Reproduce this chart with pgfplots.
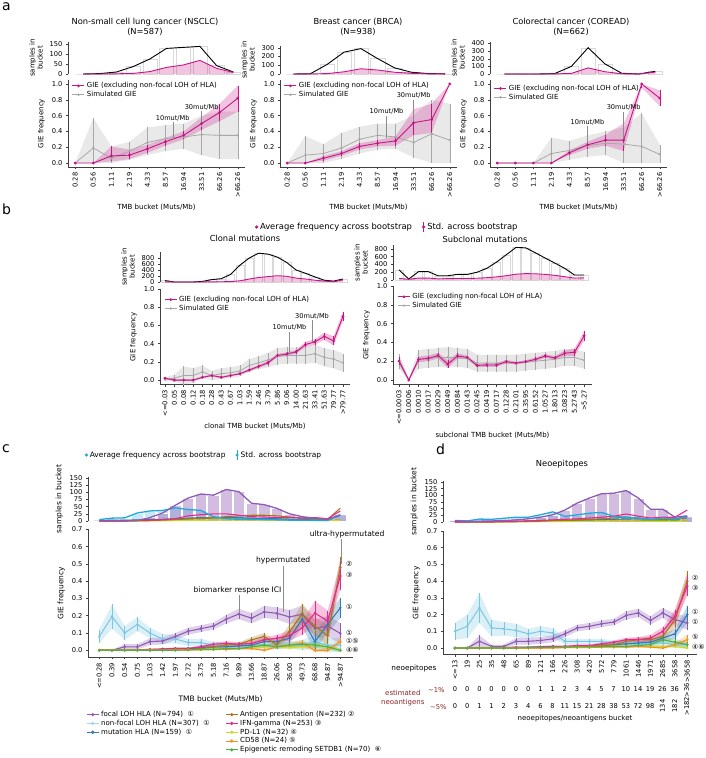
\documentclass[border=0pt]{standalone}
\usepackage{fontspec}
\setmainfont{DejaVu Sans}
\usepackage{pgfplots}
\usepackage{pgfplotstable}
\pgfplotsset{compat=1.18}
\usepgfplotslibrary{fillbetween}

\definecolor{mag}{HTML}{C71585}
\definecolor{simg}{HTML}{A8A8A8}
\definecolor{cpur}{HTML}{8E5BB5}
\definecolor{clb}{HTML}{7CC6E2}
\definecolor{ccy}{HTML}{1FA9DA}
\definecolor{cbl}{HTML}{3478B4}
\definecolor{cbr}{HTML}{A6761D}
\definecolor{cmg}{HTML}{E7298A}
\definecolor{cye}{HTML}{CFD92B}
\definecolor{cor}{HTML}{F5921E}
\definecolor{cgr}{HTML}{4DAF4A}
\definecolor{dred}{HTML}{8B2323}

\newcommand\fTick{\fontsize{6.7}{7.5}\selectfont}
\newcommand\fLab{\fontsize{7}{8}\selectfont}
\newcommand\fLabC{\fontsize{7.5}{8.5}\selectfont}
\newcommand\fTitle{\fontsize{8.3}{9.5}\selectfont}
\newcommand\fLeg{\fontsize{7}{8}\selectfont}
\newcommand\fLegB{\fontsize{8.4}{9.5}\selectfont}
\newcommand\fLegC{\fontsize{7.5}{8.5}\selectfont}
\newcommand\fAnn{\fontsize{6.6}{7.5}\selectfont}
\newcommand\fAnnC{\fontsize{7.6}{8.5}\selectfont}
\newcommand\fSm{\fontsize{7}{8}\selectfont}

\pgfplotsset{
 base/.style={scale only axis, clip=false,
   axis line style={line width=0.5pt, black!75},
   tick style={line width=0.5pt, black!75}, tick align=outside, major tick length=2pt,
   tick label style={font=\fTick}, label style={font=\fLab},
   /pgf/number format/assume math mode=true},
 hist/.style={base, axis x line=none, axis y line*=left, xtick=\empty,
   ylabel={samples in\\bucket}, ylabel style={align=center}},
 gie/.style={base, axis x line*=bottom, axis y line*=left, ylabel={GIE frequency},
   x tick label style={rotate=90, anchor=east},
   yticklabel style={/pgf/number format/.cd, fixed, fixed zerofill, precision=1}},
 leg/.style={legend style={at={(0.02,1.0)}, anchor=north west, draw=none, fill=none,
   font=\fLeg, inner sep=0.3pt, row sep=-2pt, cells={anchor=west}},
   legend image code/.code={\draw[mark repeat=2,mark phase=2,##1] plot coordinates {(0pt,0pt) (6pt,0pt) (12pt,0pt)};},
   reverse legend},
 hid/.style={hide axis, scale only axis, width=5pt, height=5pt, xmin=0, xmax=1, ymin=0, ymax=1},
}

% band with lo/hi columns
\newcommand{\bandLH}[4]{%
\addplot[name path=U#3, draw=none, forget plot] table[x=x,y=hi]{#1};
\addplot[name path=L#3, draw=none, forget plot] table[x=x,y=lo]{#1};
\addplot[fill=#2, fill opacity=0.25, draw=none, forget plot] fill between[of=U#3 and L#3];
\addplot[color=#2, mark=*, #4, error bars/.cd, y dir=both, y explicit, error mark=none,
  error bar style={line width=0.5pt}] table[x=x,y=m,
  y error plus expr=\thisrow{hi}-\thisrow{m}, y error minus expr=\thisrow{m}-\thisrow{lo}]{#1};
}
% band with symmetric error column
\newcommand{\bandE}[6]{%
\addplot[name path=U#5, draw=none, forget plot] table[x=x,y expr=\thisrow{#2}+\thisrow{#3}]{#1};
\addplot[name path=L#5, draw=none, forget plot] table[x=x,y expr=\thisrow{#2}-\thisrow{#3}]{#1};
\addplot[fill=#4, fill opacity=0.28, draw=none, forget plot] fill between[of=U#5 and L#5];
\addplot[color=#4, mark=*, #6, error bars/.cd, y dir=both, y explicit, error mark=none,
  error bar style={line width=0.5pt}] table[x=x,y=#2,y error=#3]{#1};
}

% ---------------- panel a data
\pgfplotstableread{
x k p
0 0 0
1 2 0
2 10 1
3 37 3
4 75 12
5 128 33
6 133 45
7 138 68
8 42 28
9 10 8
}\aNh
\pgfplotstableread{
x m lo hi
0 0.00 0.00 0.00
1 0.00 0.00 0.00
2 0.09 0.02 0.21
3 0.10 0.05 0.17
4 0.18 0.13 0.23
5 0.27 0.22 0.32
6 0.35 0.30 0.40
7 0.50 0.42 0.58
8 0.64 0.53 0.75
9 0.82 0.65 0.98
}\aNg
\pgfplotstableread{
x m lo hi
0 0.00 0.00 0.00
1 0.19 0.00 0.57
2 0.06 0.00 0.21
3 0.15 0.04 0.27
4 0.26 0.10 0.45
5 0.31 0.15 0.48
6 0.33 0.18 0.50
7 0.36 0.10 0.60
8 0.35 0.05 0.65
9 0.35 0.05 0.65
}\aNs
\pgfplotstableread{
x k p
0 0 0
1 3 0
2 110 5
3 250 25
4 290 60
5 175 45
6 70 20
7 20 8
8 5 2
9 2 1
}\aBh
\pgfplotstableread{
x m lo hi
0 0.00 0.00 0.00
1 0.00 0.00 0.00
2 0.06 0.03 0.09
3 0.12 0.09 0.15
4 0.21 0.17 0.25
5 0.25 0.21 0.29
6 0.28 0.22 0.34
7 0.51 0.35 0.68
8 0.55 0.38 0.75
9 1.00 1.00 1.00
}\aBg
\pgfplotstableread{
x m lo hi
0 0.00 0.00 0.00
1 0.10 0.00 0.34
2 0.12 0.00 0.24
3 0.19 0.05 0.38
4 0.30 0.12 0.46
5 0.35 0.17 0.50
6 0.33 0.18 0.50
7 0.26 0.07 0.60
8 0.37 0.00 0.80
9 0.29 0.00 0.75
}\aBs
\pgfplotstableread{
x k p
0 0 0
1 0 0
2 0 0
3 5 1
4 100 8
5 345 80
6 133 30
7 10 3
8 0 0
9 35 25
}\aCh
\pgfplotstableread{
x m lo hi
0 0.00 0.00 0.00
1 0.00 0.00 0.00
2 0.00 0.00 0.00
3 0.00 0.00 0.00
4 0.13 0.10 0.16
5 0.23 0.18 0.27
6 0.29 0.22 0.36
7 0.29 0.15 0.50
8 1.00 0.95 1.00
9 0.82 0.72 0.92
}\aCg
\pgfplotstableread{
x m lo hi
0 0.00 0.00 0.00
1 0.00 0.00 0.00
2 0.00 0.00 0.00
3 0.12 0.00 0.32
4 0.16 0.04 0.28
5 0.22 0.08 0.35
6 0.25 0.10 0.40
7 0.24 0.00 0.45
8 0.21 0.00 0.63
9 0.11 0.00 0.23
}\aCs

% ---------------- panel b data
\pgfplotstableread{
x k p
0 45 5
1 0 0
2 0 0
3 0 0
4 20 2
5 80 5
6 110 8
7 250 15
8 560 40
9 800 100
10 960 150
11 930 180
12 830 210
13 650 190
14 400 130
15 290 100
16 170 60
17 60 30
18 30 10
19 100 70
}\bCh
\pgfplotstableread{
x m e s se
0 0.02 0.01 0.01 0.02
1 0.00 0.01 0.02 0.04
2 0.00 0.01 0.05 0.10
3 0.00 0.01 0.05 0.08
4 0.03 0.01 0.09 0.07
5 0.05 0.01 0.05 0.05
6 0.03 0.01 0.07 0.06
7 0.05 0.01 0.08 0.06
8 0.07 0.01 0.10 0.06
9 0.11 0.015 0.16 0.07
10 0.15 0.015 0.19 0.07
11 0.19 0.02 0.22 0.08
12 0.27 0.02 0.26 0.09
13 0.285 0.02 0.27 0.09
14 0.31 0.02 0.27 0.09
15 0.39 0.03 0.27 0.09
16 0.42 0.03 0.29 0.10
17 0.48 0.04 0.25 0.10
18 0.43 0.05 0.23 0.10
19 0.70 0.05 0.19 0.10
}\bCg
\pgfplotstableread{
x k p
0 260 40
1 25 20
2 215 50
3 215 50
4 110 30
5 110 35
6 145 40
7 145 40
8 200 45
9 300 60
10 460 80
11 650 110
12 840 150
13 830 165
14 700 160
15 565 145
16 435 120
17 300 85
18 130 50
19 130 55
}\bSh
\pgfplotstableread{
x m e s se
0 0.20 0.04 0.20 0.08
1 0.00 0.01 0.00 0.01
2 0.22 0.03 0.22 0.10
3 0.23 0.03 0.23 0.10
4 0.26 0.03 0.24 0.10
5 0.17 0.04 0.24 0.11
6 0.255 0.03 0.24 0.10
7 0.24 0.02 0.23 0.10
8 0.155 0.02 0.18 0.09
9 0.16 0.02 0.18 0.09
10 0.16 0.02 0.18 0.09
11 0.195 0.02 0.18 0.09
12 0.18 0.015 0.18 0.09
13 0.195 0.015 0.19 0.09
14 0.22 0.02 0.20 0.09
15 0.255 0.02 0.21 0.09
16 0.235 0.02 0.22 0.09
17 0.285 0.03 0.24 0.09
18 0.295 0.04 0.24 0.09
19 0.47 0.05 0.21 0.09
}\bSg

% ---------------- panel c data
\pgfplotstableread{
x p l b n m y o g
0 0 5 2 0 0 0 0 0
1 0 10 3 0 0 0 0 0
2 0 11 3 0 1 0 0 0
3 2 28 4 1 2 0 0 1
4 12 35 5 2 3 0 1 2
5 28 37 6 3 5 1 1 3
6 55 46 8 5 8 1 2 4
7 80 40 10 8 18 2 3 6
8 94 37 12 10 22 2 3 8
9 90 15 12 12 25 3 4 10
10 110 8 12 15 25 3 4 10
11 102 6 12 18 20 3 4 10
12 62 5 10 20 15 3 4 9
13 57 5 8 20 14 3 4 8
14 44 4 8 18 12 2 3 7
15 25 3 6 14 12 2 3 6
16 15 3 5 10 10 2 2 5
17 10 2 4 8 12 2 2 4
18 6 2 3 5 8 1 2 3
19 22 20 20 45 35 2 4 3
}\cH
\pgfplotstableread{
x pm pe lm le bm be nm ne mm me ym ye om oe gm ge
0 0 0.003 0.080 0.040 0 0.003 0 0.003 0 0.003 0 0.003 0 0.003 0 0.003
1 0 0.003 0.195 0.070 0 0.003 0 0.003 0 0.003 0 0.003 0 0.003 0 0.003
2 0.020 0.015 0.100 0.040 0 0.003 0 0.003 0 0.003 0 0.003 0 0.003 0 0.003
3 0.020 0.015 0.150 0.040 0 0.003 0 0.003 0.003 0.003 0 0.003 0 0.003 0 0.003
4 0.050 0.020 0.100 0.030 0 0.003 0 0.003 0.005 0.005 0 0.003 0 0.003 0 0.003
5 0.054 0.020 0.065 0.030 0.005 0.005 0 0.003 0.008 0.005 0 0.003 0 0.003 0 0.003
6 0.080 0.020 0.065 0.025 0.010 0.008 0.005 0.005 0.010 0.006 0 0.003 0.003 0.003 0 0.003
7 0.110 0.020 0.045 0.020 0.010 0.008 0.005 0.005 0.010 0.006 0.003 0.003 0.003 0.003 0.002 0.003
8 0.125 0.020 0.045 0.020 0.015 0.010 0.010 0.008 0.020 0.008 0.003 0.003 0.005 0.005 0.005 0.005
9 0.140 0.020 0.030 0.020 0.020 0.010 0.020 0.010 0.035 0.010 0.005 0.005 0.005 0.005 0.005 0.005
10 0.180 0.025 0.030 0.020 0.020 0.010 0.030 0.012 0.040 0.012 0.010 0.006 0.005 0.005 0.010 0.006
11 0.210 0.030 0.020 0.015 0.025 0.012 0.035 0.012 0.035 0.012 0.010 0.006 0.010 0.006 0.010 0.006
12 0.186 0.030 0.020 0.015 0.030 0.015 0.060 0.015 0.040 0.012 0.015 0.008 0.010 0.006 0.020 0.008
13 0.222 0.035 0.020 0.015 0.050 0.020 0.080 0.020 0.060 0.015 0.020 0.010 0.000 0.005 0.030 0.010
14 0.214 0.035 0.025 0.020 0.050 0.020 0.030 0.020 0.070 0.020 0.020 0.010 0.020 0.010 0.020 0.010
15 0.193 0.040 0.030 0.020 0.070 0.030 0.110 0.040 0.085 0.030 0.015 0.010 0.030 0.015 0.030 0.012
16 0.209 0.050 0.030 0.030 0.180 0.050 0.210 0.060 0.130 0.040 0.020 0.012 0.040 0.020 0.035 0.015
17 0.126 0.050 0.050 0.040 0.050 0.050 0.140 0.050 0.215 0.070 0.030 0.015 0.000 0.010 0.030 0.015
18 0.140 0.060 0.030 0.040 0.150 0.050 0.085 0.060 0.170 0.060 0.020 0.015 0.000 0.010 0.020 0.015
19 0.098 0.060 0.030 0.040 0.245 0.060 0.480 0.060 0.430 0.080 0.000 0.010 0.050 0.020 0.000 0.010
}\cG

% ---------------- panel d data
\pgfplotstableread{
x p l b n m y o g
0 5 6 1 0 0 0 0 2
1 3 4 1 0 0 0 0 1
2 3 11 2 0 1 0 0 1
3 4 10 2 0 1 0 0 1
4 5 14 3 1 2 0 1 1
5 8 18 3 1 3 1 1 2
6 12 18 4 2 4 1 1 2
7 18 27 5 3 6 1 2 3
8 27 38 6 5 8 1 2 4
9 45 21 6 6 10 1 2 5
10 71 27 8 8 12 2 3 6
11 90 33 8 10 15 2 3 7
12 106 36 10 12 18 2 3 8
13 108 21 10 15 22 3 4 8
14 118 18 12 18 30 3 4 8
15 90 15 12 15 22 3 4 7
16 48 9 10 10 15 2 3 5
17 48 15 10 10 18 2 3 5
18 18 11 12 8 18 2 2 4
19 23 19 22 15 45 2 4 3
}\dH
\pgfplotstableread{
x pm pe lm le bm be nm ne mm me ym ye om oe gm ge
0 0.000 0.003 0.100 0.050 0 0.003 0 0.003 0 0.003 0 0.003 0 0.003 0 0.003
1 0.000 0.003 0.130 0.070 0 0.003 0 0.003 0 0.003 0 0.003 0 0.003 0 0.003
2 0.040 0.035 0.240 0.090 0 0.003 0 0.003 0 0.003 0 0.003 0 0.003 0 0.003
3 0.010 0.010 0.120 0.050 0 0.003 0 0.003 0 0.003 0 0.003 0 0.003 0 0.003
4 0.010 0.010 0.115 0.040 0 0.003 0 0.003 0.003 0.003 0 0.003 0 0.003 0 0.003
5 0.040 0.020 0.105 0.040 0 0.003 0 0.003 0.005 0.005 0 0.003 0 0.003 0 0.003
6 0.040 0.020 0.085 0.030 0.003 0.003 0 0.003 0.005 0.005 0 0.003 0 0.003 0.003 0.003
7 0.045 0.020 0.100 0.030 0.005 0.005 0.003 0.003 0.008 0.005 0 0.003 0 0.003 0.003 0.003
8 0.055 0.020 0.090 0.030 0.005 0.005 0.005 0.005 0.010 0.006 0.003 0.003 0 0.003 0.005 0.005
9 0.085 0.020 0.040 0.020 0.005 0.005 0.005 0.005 0.010 0.006 0.005 0.005 0.003 0.003 0.005 0.005
10 0.120 0.020 0.040 0.015 0.010 0.006 0.008 0.005 0.015 0.006 0.005 0.005 0.003 0.003 0.008 0.005
11 0.130 0.020 0.040 0.015 0.010 0.006 0.010 0.006 0.015 0.006 0.008 0.005 0.003 0.003 0.008 0.005
12 0.145 0.020 0.040 0.015 0.015 0.008 0.015 0.008 0.025 0.008 0.008 0.005 0.005 0.005 0.010 0.006
13 0.155 0.020 0.030 0.015 0.020 0.010 0.020 0.010 0.035 0.010 0.010 0.006 0.005 0.005 0.010 0.006
14 0.195 0.025 0.030 0.015 0.025 0.010 0.040 0.012 0.050 0.012 0.010 0.006 0.005 0.005 0.010 0.006
15 0.210 0.025 0.030 0.015 0.030 0.012 0.050 0.015 0.050 0.015 0.010 0.006 0.010 0.008 0.015 0.008
16 0.165 0.025 0.030 0.020 0.035 0.015 0.050 0.015 0.060 0.020 0.010 0.006 0.005 0.005 0.020 0.010
17 0.210 0.030 0.030 0.020 0.060 0.020 0.070 0.025 0.100 0.025 0.010 0.008 0.000 0.005 0.050 0.020
18 0.170 0.035 0.020 0.020 0.085 0.030 0.170 0.050 0.190 0.040 0.010 0.008 0.020 0.010 0.035 0.020
19 0.150 0.040 0.020 0.020 0.200 0.050 0.400 0.060 0.370 0.060 0.000 0.008 0.050 0.030 0.020 0.015
}\dG

\newcommand{\histA}[1]{%
\addplot[ybar, bar width=0.85, draw=black!15, fill=none, forget plot] table[x=x,y=k]{#1};
\addplot[fill=mag, fill opacity=0.25, draw=none, forget plot] table[x=x,y=p]{#1} \closedcycle;
\addplot[black, line width=0.9pt] table[x=x,y=k]{#1};
\addplot[mag, line width=0.9pt] table[x=x,y=p]{#1};
}
\newcommand{\histC}[1]{%
\addplot[ybar, bar width=0.9, draw=white, line width=0.6pt, fill=ccy, fill opacity=0.25, forget plot] table[x=x,y=l]{#1};
\addplot[ybar, bar width=0.9, draw=white, line width=0.6pt, fill=cpur, fill opacity=0.4, forget plot] table[x=x,y=p]{#1};
\addplot[cgr, line width=1pt] table[x=x,y=g]{#1};
\addplot[cor, line width=1pt] table[x=x,y=o]{#1};
\addplot[cye, line width=1pt] table[x=x,y=y]{#1};
\addplot[cbl, line width=1pt] table[x=x,y=b]{#1};
\addplot[cbr, line width=1.1pt] table[x=x,y=n]{#1};
\addplot[cmg, line width=1.1pt] table[x=x,y=m]{#1};
\addplot[ccy, line width=1.3pt] table[x=x,y=l]{#1};
\addplot[cpur, line width=1.3pt] table[x=x,y=p]{#1};
}
\newcommand{\gieC}[2]{%
\bandE{#1}{lm}{le}{clb}{#2l}{line width=1pt, mark size=0.7pt}
\bandE{#1}{pm}{pe}{cpur}{#2p}{line width=1.1pt, mark size=0.7pt}
\bandE{#1}{bm}{be}{cbl}{#2b}{line width=1.1pt, mark size=0.7pt}
\bandE{#1}{nm}{ne}{cbr}{#2n}{line width=1.1pt, mark size=0.7pt}
\bandE{#1}{mm}{me}{cmg}{#2m}{line width=1.1pt, mark size=0.7pt}
\bandE{#1}{ym}{ye}{cye}{#2y}{line width=1.1pt, mark size=0.7pt}
\bandE{#1}{om}{oe}{cor}{#2o}{line width=1.1pt, mark size=0.7pt}
\bandE{#1}{gm}{ge}{cgr}{#2g}{line width=1.1pt, mark size=0.7pt}
}
\newcommand{\dummy}{\addplot[draw=none, forget plot] coordinates {(0,0) (1,1)};}

\begin{document}
\begin{tikzpicture}

% panel letters
\node[anchor=north west, inner sep=0, font=\fontsize{14}{14}\selectfont] at (2pt,-2pt) {a};
\node[anchor=north west, inner sep=0, font=\fontsize{14}{14}\selectfont] at (2pt,-204pt) {b};
\node[anchor=north west, inner sep=0, font=\fontsize{14}{14}\selectfont] at (2pt,-444pt) {c};
\node[anchor=north west, inner sep=0, font=\fontsize{14}{14}\selectfont] at (436pt,-444pt) {d};

% ================= panel a
\node[font=\fTitle] at (145pt,-22pt) {Non-small cell lung cancer (NSCLC)};
\node[font=\fTitle] at (145pt,-32pt) {(N=587)};
\node[font=\fTitle] at (358pt,-22pt) {Breast cancer (BRCA)};
\node[font=\fTitle] at (358pt,-32pt) {(N=938)};
\node[font=\fTitle] at (571pt,-22pt) {Colorectal cancer (COREAD)};
\node[font=\fTitle] at (571pt,-32pt) {(N=662)};

\begin{axis}[hist, at={(68pt,-74pt)}, anchor=south west, width=177pt, height=32pt,
  xmin=-0.9, xmax=9.7, ymin=0, ymax=160, ytick={0,50,100,150}]
\histA{\aNh}
\end{axis}
\begin{axis}[gie, leg, at={(68pt,-167pt)}, anchor=south west, width=177pt, height=87pt,
  xmin=-0.4, xmax=9.4, ymin=-0.05, ymax=1.05, ytick={0,0.2,0.4,0.6,0.8,1.0},
  xtick={0,...,9}, xticklabels={0.28,0.56,1.11,2.19,4.33,8.57,16.94,33.51,66.26,>66.26},
  xlabel={TMB bucket (Muts/Mb)}]
\bandLH{\aNs}{simg}{a1}{line width=0.8pt, mark size=0.8pt}
\addlegendentry{Simulated GIE}
\bandLH{\aNg}{mag}{a2}{line width=0.9pt, mark size=0.9pt}
\addlegendentry{GIE (excluding non-focal LOH of HLA)}
\draw[black!45, line width=0.4pt] (axis cs:5.4,0.30) -- (axis cs:5.4,0.52);
\node[font=\fAnn, anchor=south, inner sep=1pt] at (axis cs:5.4,0.52) {10mut/Mb};
\draw[black!45, line width=0.4pt] (axis cs:7.0,0.45) -- (axis cs:7.0,0.66);
\node[font=\fAnn, anchor=south, inner sep=1pt] at (axis cs:7.0,0.66) {30mut/Mb};
\end{axis}

\begin{axis}[hist, at={(280pt,-74pt)}, anchor=south west, width=177pt, height=28pt,
  xmin=-0.8, xmax=9.7, ymin=0, ymax=320, ytick={0,100,200,300}]
\histA{\aBh}
\end{axis}
\begin{axis}[gie, leg, at={(280pt,-167pt)}, anchor=south west, width=177pt, height=87pt,
  xmin=-0.4, xmax=9.4, ymin=-0.05, ymax=1.05, ytick={0,0.2,0.4,0.6,0.8,1.0},
  xtick={0,...,9}, xticklabels={0.28,0.56,1.11,2.19,4.33,8.57,16.94,33.51,66.26,>66.26},
  xlabel={TMB bucket (Muts/Mb)}]
\bandLH{\aBs}{simg}{b1}{line width=0.8pt, mark size=0.8pt}
\addlegendentry{Simulated GIE}
\bandLH{\aBg}{mag}{b2}{line width=0.9pt, mark size=0.9pt}
\addlegendentry{GIE (excluding non-focal LOH of HLA)}
\draw[black!45, line width=0.4pt] (axis cs:5.5,0.32) -- (axis cs:5.5,0.60);
\node[font=\fAnn, anchor=south, inner sep=1pt] at (axis cs:5.5,0.60) {10mut/Mb};
\draw[black!45, line width=0.4pt] (axis cs:7.0,0.50) -- (axis cs:7.0,0.80);
\node[font=\fAnn, anchor=south, inner sep=1pt] at (axis cs:7.0,0.80) {30mut/Mb};
\end{axis}

\begin{axis}[hist, at={(490pt,-74pt)}, anchor=south west, width=177pt, height=32pt,
  xmin=-0.85, xmax=9.7, ymin=0, ymax=420, ytick={0,100,200,300,400}]
\histA{\aCh}
\end{axis}
\begin{axis}[gie, leg, at={(490pt,-167pt)}, anchor=south west, width=177pt, height=87pt,
  xmin=-0.4, xmax=9.4, ymin=-0.05, ymax=1.05, ytick={0,0.2,0.4,0.6,0.8,1.0},
  xtick={0,...,9}, xticklabels={0.28,0.56,1.11,2.19,4.33,8.57,16.94,33.51,66.26,>66.26},
  xlabel={TMB bucket (Muts/Mb)}, legend style={at={(0.02,0.97)}}]
\bandLH{\aCs}{simg}{c1}{line width=0.8pt, mark size=0.8pt}
\addlegendentry{Simulated GIE}
\bandLH{\aCg}{mag}{c2}{line width=0.9pt, mark size=0.9pt}
\addlegendentry{GIE (excluding non-focal LOH of HLA)}
\draw[black!45, line width=0.4pt] (axis cs:5.0,0.25) -- (axis cs:5.0,0.47);
\node[font=\fAnn, anchor=south, inner sep=1pt] at (axis cs:5.0,0.47) {10mut/Mb};
\draw[black!45, line width=0.4pt] (axis cs:7.0,0.30) -- (axis cs:7.0,0.65);
\node[font=\fAnn, anchor=south, inner sep=1pt] at (axis cs:7.0,0.65) {30mut/Mb};
\end{axis}

% ================= panel b
\begin{axis}[hid, at={(252pt,-227pt)}, anchor=west, legend columns=2,
  legend style={at={(0,0.5)}, anchor=west, draw=none, fill=none, font=\fLegB,
   /tikz/every even column/.append style={column sep=8pt}}]
\dummy
\addlegendimage{only marks, mark=*, mag, mark size=1.4pt}
\addlegendentry{Average frequency across bootstrap}
\addlegendimage{legend image code/.code={\draw[mag, line width=0.6pt] (0.15cm,-0.18cm) -- (0.15cm,0.18cm); \fill[mag] (0.15cm,0cm) circle (1.4pt);}}
\addlegendentry{Std. across bootstrap}
\end{axis}

\node[font=\fTitle] at (245pt,-238pt) {Clonal mutations};
\node[font=\fTitle] at (485pt,-239pt) {Subclonal mutations};

\begin{axis}[hist, at={(160pt,-282pt)}, anchor=south west, width=190pt, height=30pt,
  xmin=-0.53, xmax=19.75, ymin=0, ymax=1000, ytick={0,200,400,600,800}]
\histA{\bCh}
\end{axis}
\begin{axis}[gie, leg, at={(160pt,-384.6pt)}, anchor=south west, width=190pt, height=95.6pt,
  xmin=-0.53, xmax=19.75, ymin=-0.05, ymax=1.0, ytick={0,0.2,0.4,0.6,0.8,1.0},
  xtick={0,...,19}, xticklabels={<=0.03,0.05,0.08,0.12,0.18,0.28,0.43,0.67,1.03,1.59,2.46,3.79,5.86,9.06,14.00,21.63,33.41,51.63,79.77,>79.77},
  xlabel={clonal TMB bucket (Muts/Mb)}, legend style={at={(0.02,0.95)}}]
\bandE{\bCg}{s}{se}{simg}{d1}{line width=0.8pt, mark size=0.7pt}
\addlegendentry{Simulated GIE}
\bandE{\bCg}{m}{e}{mag}{d2}{line width=0.9pt, mark size=0.9pt}
\addlegendentry{GIE (excluding non-focal LOH of HLA)}
\draw[black!45, line width=0.4pt] (axis cs:13.3,0.29) -- (axis cs:13.3,0.53);
\node[font=\fAnn, anchor=south, inner sep=1pt] at (axis cs:13.3,0.53) {10mut/Mb};
\draw[black!45, line width=0.4pt] (axis cs:15.7,0.42) -- (axis cs:15.7,0.66);
\node[font=\fAnn, anchor=south, inner sep=1pt] at (axis cs:15.7,0.66) {30mut/Mb};
\end{axis}

\begin{axis}[hist, at={(393pt,-280pt)}, anchor=south west, width=199pt, height=34.9pt,
  xmin=-0.62, xmax=19.8, ymin=0, ymax=900, ytick={0,200,400,600,800}]
\histA{\bSh}
\end{axis}
\begin{axis}[gie, leg, at={(393pt,-384.7pt)}, anchor=south west, width=199pt, height=98.7pt,
  xmin=-0.62, xmax=19.8, ymin=-0.05, ymax=1.0, ytick={0,0.2,0.4,0.6,0.8,1.0},
  xtick={0,...,19}, xticklabels={<=0.0003,0.0006,0.0010,0.0017,0.0029,0.0049,0.0084,0.0143,0.0245,0.0419,0.0717,0.1228,0.2101,0.3595,0.6152,1.0527,1.8013,3.0823,5.2743,>5.27},
  xlabel={subclonal TMB bucket (Muts/Mb)}, legend style={at={(0.02,0.95)}}]
\bandE{\bSg}{s}{se}{simg}{e1}{line width=0.8pt, mark size=0.7pt}
\addlegendentry{Simulated GIE}
\bandE{\bSg}{m}{e}{mag}{e2}{line width=0.9pt, mark size=0.9pt}
\addlegendentry{GIE (excluding non-focal LOH of HLA)}
\end{axis}

% ================= panel c
\begin{axis}[hid, at={(82pt,-455pt)}, anchor=west, legend columns=2,
  legend style={at={(0,0.5)}, anchor=west, draw=none, fill=none, font=\fLegC,
   /tikz/every even column/.append style={column sep=8pt}}]
\dummy
\addlegendimage{only marks, mark=*, ccy, mark size=1.3pt}
\addlegendentry{Average frequency across bootstrap}
\addlegendimage{legend image code/.code={\draw[ccy, line width=0.6pt] (0.15cm,-0.18cm) -- (0.15cm,0.18cm); \fill[ccy] (0.15cm,0cm) circle (1.3pt);}}
\addlegendentry{Std. across bootstrap}
\end{axis}

\begin{axis}[hist, at={(88pt,-521pt)}, anchor=south west, width=265pt, height=43.9pt,
  xmin=-0.89, xmax=20.0, ymin=0, ymax=153, ytick={0,25,50,75,100,125,150},
  ylabel={samples in bucket}, label style={font=\fLabC}]
\histC{\cH}
\end{axis}
\begin{axis}[gie, at={(88pt,-657.2pt)}, anchor=south west, width=265pt, height=127.9pt,
  xmin=-0.89, xmax=20.0, ymin=-0.04, ymax=0.7, ytick={0,0.1,0.2,0.3,0.4,0.5,0.6,0.7},
  xtick={0,...,19}, xticklabels={<=0.28,0.39,0.54,0.75,1.03,1.42,1.97,2.72,3.75,5.18,7.16,9.89,13.66,18.87,26.06,36.00,49.73,68.68,94.87,>94.87},
  xlabel={TMB bucket (Muts/Mb)}, label style={font=\fLabC}]
\gieC{\cG}{cc}
\draw[black!45, line width=0.4pt] (axis cs:11.0,0.215) -- (axis cs:11.0,0.32);
\node[font=\fAnnC, anchor=south, inner sep=1pt] at (axis cs:10.9,0.32) {biomarker response ICI};
\draw[black!45, line width=0.4pt] (axis cs:14.5,0.22) -- (axis cs:14.5,0.49);
\node[font=\fAnnC, anchor=south, inner sep=1pt] at (axis cs:14.5,0.49) {hypermutated};
\draw[black!45, line width=0.4pt] (axis cs:19.05,0.50) -- (axis cs:19.05,0.645);
\node[font=\fAnnC, anchor=south west, inner sep=1pt] at (axis cs:16.5,0.645) {ultra-hypermutated};
\node[font=\fLeg, anchor=west, inner sep=0.5pt] at (axis cs:19.4,0.50) {②};
\node[font=\fLeg, anchor=west, inner sep=0.5pt] at (axis cs:19.4,0.435) {③};
\node[font=\fLeg, anchor=west, inner sep=0.5pt] at (axis cs:19.4,0.25) {①};
\node[font=\fLeg, anchor=west, inner sep=0.5pt] at (axis cs:19.4,0.10) {①};
\node[font=\fLeg, anchor=west, inner sep=0.5pt] at (axis cs:19.4,0.052) {①⑤};
\node[font=\fLeg, anchor=west, inner sep=0.5pt] at (axis cs:19.4,0.0) {④⑥};
\end{axis}

% legend c bottom
\begin{axis}[hid, at={(83pt,-707pt)}, anchor=north west,
  legend style={at={(0,1)}, anchor=north west, draw=none, fill=none, font=\fSm, row sep=-2pt, cells={anchor=west}},
  legend image code/.code={\draw[mark repeat=2,mark phase=2,#1] plot coordinates {(0pt,0pt) (6pt,0pt) (12pt,0pt)};}]
\dummy
\addlegendimage{cpur, line width=1pt, mark=*, mark size=1.1pt}
\addlegendentry{focal LOH HLA (N=794) \ ①}
\addlegendimage{clb!70, line width=1pt, mark=*, mark size=1.1pt}
\addlegendentry{non-focal LOH HLA (N=307) \ ①}
\addlegendimage{cbl, line width=1pt, mark=*, mark size=1.1pt}
\addlegendentry{mutation HLA (N=159) \ ①}
\end{axis}
\begin{axis}[hid, at={(222pt,-707pt)}, anchor=north west,
  legend style={at={(0,1)}, anchor=north west, draw=none, fill=none, font=\fSm, row sep=-2pt, cells={anchor=west}},
  legend image code/.code={\draw[mark repeat=2,mark phase=2,#1] plot coordinates {(0pt,0pt) (6pt,0pt) (12pt,0pt)};}]
\dummy
\addlegendimage{cbr, line width=1pt, mark=*, mark size=1.1pt}
\addlegendentry{Antigen presentation (N=232) ②}
\addlegendimage{cmg, line width=1pt, mark=*, mark size=1.1pt}
\addlegendentry{IFN-gamma (N=253) ③}
\addlegendimage{cye, line width=1pt, mark=*, mark size=1.1pt}
\addlegendentry{PD-L1 (N=32) ④}
\addlegendimage{cor, line width=1pt, mark=*, mark size=1.1pt}
\addlegendentry{CD58 (N=24) ⑤}
\addlegendimage{cgr, line width=1pt, mark=*, mark size=1.1pt}
\addlegendentry{Epigenetic remoding SETDB1 (N=70) \ ⑥}
\end{axis}

% ================= panel d
\node[font=\fTitle] at (562pt,-464pt) {Neoepitopes};
\begin{axis}[hist, at={(443pt,-522pt)}, anchor=south west, width=254pt, height=40.8pt,
  xmin=-0.98, xmax=19.8, ymin=0, ymax=153, ytick={0,25,50,75,100,125,150},
  ylabel={samples in bucket}, label style={font=\fLabC}]
\histC{\dH}
\end{axis}
\begin{axis}[gie, at={(443pt,-654.7pt)}, anchor=south west, width=254pt, height=123.7pt,
  xmin=-0.98, xmax=19.8, ymin=-0.04, ymax=0.7, ytick={0,0.1,0.2,0.3,0.4,0.5,0.6,0.7},
  xtick={0,...,19}, xticklabels={<=13,19,25,35,48,65,89,121,166,226,308,420,572,779,1061,1446,1971,2685,3658,>3658},
  label style={font=\fLabC}]
\gieC{\dG}{dd}
\node[font=\fLeg, anchor=west, inner sep=0.5pt] at (axis cs:19.35,0.42) {②};
\node[font=\fLeg, anchor=west, inner sep=0.5pt] at (axis cs:19.35,0.36) {③};
\node[font=\fLeg, anchor=west, inner sep=0.5pt] at (axis cs:19.35,0.215) {①};
\node[font=\fLeg, anchor=west, inner sep=0.5pt] at (axis cs:19.35,0.155) {①};
\node[font=\fLeg, anchor=west, inner sep=0.5pt] at (axis cs:19.35,0.066) {⑤};
\node[font=\fLeg, anchor=west, inner sep=0.5pt] at (axis cs:19.35,0.006) {④⑥};
\end{axis}

\node[font=\fontsize{7.3}{8}\selectfont, anchor=east] at (440pt,-668pt) {neoepitopes};
\node[font=\fLab, anchor=east, text=dred] at (424pt,-693pt) {estimated};
\node[font=\fLab, anchor=east, text=dred] at (428pt,-703pt) {neoantigens};
\node[font=\fTick, anchor=west, text=dred, inner sep=0] at (428pt,-690pt) {\textasciitilde1\%};
\node[font=\fTick, anchor=west, text=dred, inner sep=0] at (430pt,-707pt) {\textasciitilde5\%};
\foreach \v [count=\i from 0] in {0,0,0,0,0,0,0,1,1,2,3,4,5,7,10,14,19,26,36}
  \node[font=\fTick] at ({455pt+\i*12.2pt},-689pt) {\v};
\node[font=\fTick, rotate=90] at (686.8pt,-690pt) {>36};
\foreach \v [count=\i from 0] in {0,0,1,1,2,3,4,6,8,11,15,21,28,38,53,72,98}
  \node[font=\fTick] at ({455pt+\i*12.2pt},-706pt) {\v};
\node[font=\fTick, rotate=90] at (662.4pt,-706pt) {134};
\node[font=\fTick, rotate=90] at (674.6pt,-706pt) {182};
\node[font=\fTick, rotate=90] at (686.8pt,-706pt) {>182};
\node[font=\fLab] at (575pt,-719pt) {neoepitopes/neoantigens bucket};

\pgfresetboundingbox
\path[use as bounding box] (0pt,0pt) rectangle (706pt,-758pt);
\end{tikzpicture}
\end{document}
